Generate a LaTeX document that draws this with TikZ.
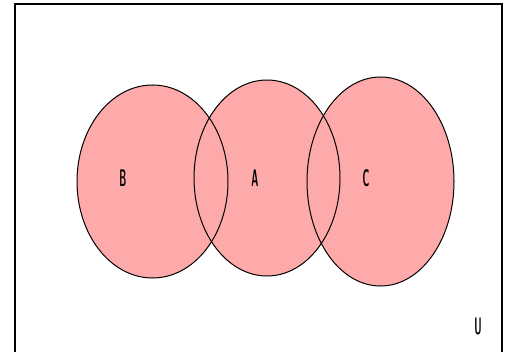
\documentclass[tikz,border=0pt]{standalone}
\usepackage{graphicx}
\definecolor{setpink}{RGB}{255,170,170}
\begin{document}
\begin{tikzpicture}[
		x=1pt, y=-1pt,
		setfill/.style={fill=setpink},
		setline/.style={draw=black, line width=1pt},
		frame/.style={draw=black, line width=1.8pt},
		lbl/.style={inner sep=0pt, font=\fontsize{24}{24}\selectfont\sffamily\bfseries},
	]
	\useasboundingbox (0,0) rectangle (505,352);

	% Universe
	\coordinate (ulo) at (15,4);
	\coordinate (uhi) at (502,362);
	\draw[frame] (ulo) rectangle (uhi);

	% Set centres
	\coordinate (cB) at (152.5,181.5);
	\coordinate (cA) at (267,178);
	\coordinate (cC) at (380.5,181.5);

	% Fills
	\fill[setfill] (cB) ellipse [x radius=75.5pt, y radius=96.5pt];
	\fill[setfill] (cA) ellipse [x radius=73pt, y radius=98pt];
	\fill[setfill] (cC) ellipse [x radius=73.5pt, y radius=104.5pt];

	% Outlines
	\draw[setline] (cB) ellipse [x radius=75.5pt, y radius=96.5pt];
	\draw[setline] (cA) ellipse [x radius=73pt, y radius=98pt];
	\draw[setline] (cC) ellipse [x radius=73.5pt, y radius=104.5pt];

	% Labels
	\node[lbl] (labB) at (123,178) {\scalebox{0.4}[1]{B}};
	\node[lbl] (labA) at (255,178) {\scalebox{0.4}[1]{A}};
	\node[lbl] (labC) at (366,178) {\scalebox{0.4}[1]{C}};
	\node[lbl] (labU) at (478,326) {\scalebox{0.4}[1]{U}};

\end{tikzpicture}
\end{document}
